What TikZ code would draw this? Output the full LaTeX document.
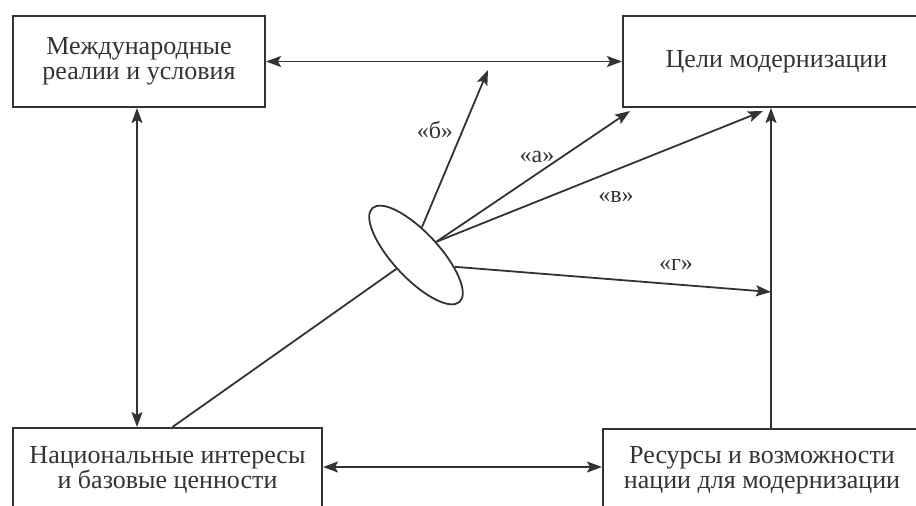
\documentclass[tikz,border=0pt]{standalone}
\usepackage{fontspec}
\setmainfont{Liberation Serif}
\usepackage{tikz}
\usetikzlibrary{arrows.meta, shapes.geometric}

\begin{document}
\begin{tikzpicture}[x=1pt, y=-1pt, >={Stealth[length=15pt, width=11pt, inset=3pt]},
    box/.style={draw=black!80, line width=2pt, align=center, inner sep=0pt,
                text=black!80, font=\fontsize{26}{25}\selectfont},
    link/.style={draw=black!80, line width=1.8pt},
    tag/.style={text=black!80, inner sep=1pt, font=\fontsize{24}{24}\selectfont}]
  \useasboundingbox (0, 0) rectangle (916, 506);
  % the four blocks
  \node[box, minimum width=252, minimum height=91] (intl)  at (139, 61.5)  {Международные\\реалии и условия};
  \node[box, minimum width=307, minimum height=91] (goals) at (776.5, 61.5) {Цели модернизации};
  \node[box, minimum width=309, minimum height=84] (natl)  at (167.5, 470)  {Национальные интересы\\и базовые ценности};
  \node[box, minimum width=318, minimum height=83] (res)   at (762, 470.5)  {Ресурсы и возможности\\нации для модернизации};
  \node[draw=black!80, line width=1.8pt, ellipse, inner sep=0pt, minimum width=128, minimum height=46, rotate=-47] (ell) at (416, 255) {};
  \coordinate (bEnd) at (488, 70);
  \coordinate (aEnd) at (630, 111);
  \coordinate (vEnd) at (763, 111);
  \coordinate (gEnd) at (771, 292);
  % links between the blocks
  \draw[link, <->] (intl) -- (goals);
  \draw[link, <->] ([xshift=-2pt]intl.south) -- ([xshift=-2pt]intl.south |- natl.north);
  \draw[link, <->] ([yshift=3pt]natl.east) -- ([yshift=3pt]natl.east -| res.west);
  \draw[link, ->] (res.north -| gEnd) -- (goals.south -| gEnd);
  \draw[link] ([xshift=5pt]natl.north) -- (ell);
  % the four ways
  \draw[link, ->] (ell.125) -- (bEnd) node[tag, pos=0.62, left=8pt] {«б»};
  \draw[link, ->] (ell.80) -- (aEnd) node[tag, pos=0.52, above=9pt] {«а»};
  \draw[link, ->] (ell.80) -- (vEnd) node[tag, pos=0.55, below=20pt] {«в»};
  \draw[link, ->] (ell.30) -- (gEnd) node[tag, pos=0.7, above=12pt] {«г»};
\end{tikzpicture}
\end{document}
